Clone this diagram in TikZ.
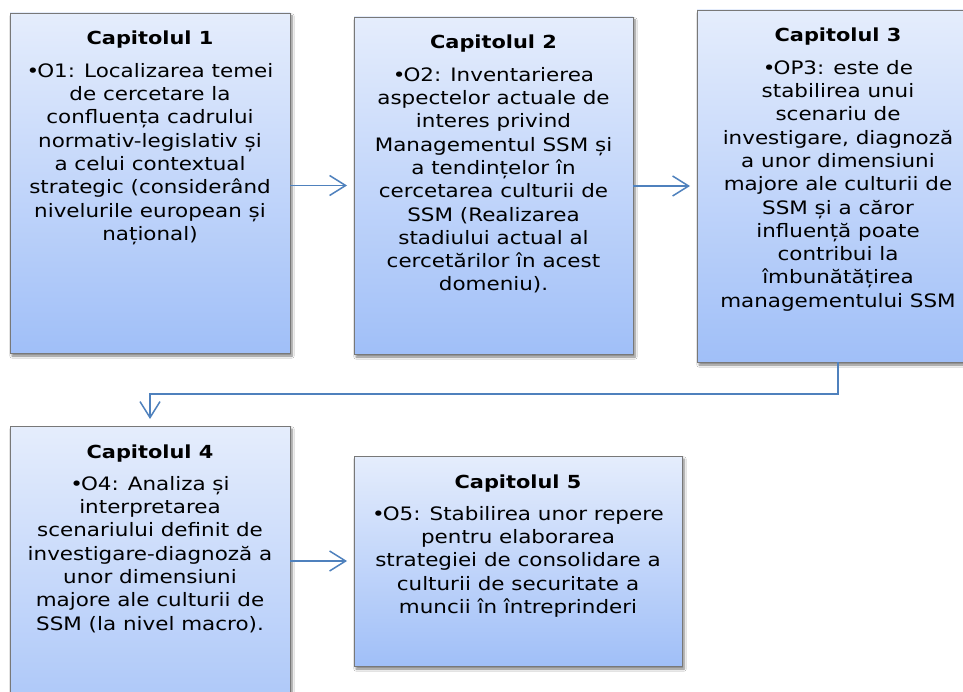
\documentclass[tikz,border=0pt]{standalone}
\usepackage{fontspec}
\setmainfont[FakeStretch=1.16]{DejaVu Sans}
\usetikzlibrary{arrows.meta,shadows.blur}

\definecolor{boxtop}{RGB}{229,237,252}
\definecolor{boxbot}{RGB}{160,191,248}
\definecolor{boxline}{RGB}{120,120,120}
\definecolor{linkblue}{RGB}{79,129,189}

% bullet set close to the following word
\newcommand{\objbullet}{•\kern-2pt}

\begin{document}
\begin{tikzpicture}[x=1pt,y=-1pt,
  chapter/.style={draw=boxline, line width=0.8pt, inner sep=0pt, outer sep=0pt,
    anchor=north west, top color=boxtop, bottom color=boxbot,
    blur shadow={shadow xshift=2pt, shadow yshift=-3pt, shadow blur steps=6, shadow opacity=50}},
  chaptitle/.style={anchor=base, inner sep=0pt, font=\fontsize{18}{22}\selectfont\bfseries},
  chapbody/.style={anchor=north, inner sep=0pt, align=center, font=\fontsize{18.5}{23.3}\selectfont},
  link/.style={draw=linkblue, line width=1.3pt,
    -{Straight Barb[length=16pt,width=20pt,line width=1.5pt]}, shorten >=7pt}]

\useasboundingbox (0,0) rectangle (963,692);
\clip (0,0) rectangle (963,692);
\fill[white] (0,0) rectangle (963,692);

% chapter boxes
\node[chapter, minimum width=280pt, minimum height=340pt] (c1) at (10,13) {};
\node[chapter, minimum width=279pt, minimum height=337pt] (c2) at (354,17) {};
\node[chapter, minimum width=282pt, minimum height=352pt] (c3) at (697,10) {};
\node[chapter, minimum width=280pt, minimum height=344pt] (c4) at (10,426) {};
\node[chapter, minimum width=328pt, minimum height=210pt] (c5) at (354,456) {};

% titles
\node[chaptitle] (t1) at ([yshift=-32pt]c1.north) {Capitolul 1};
\node[chaptitle] (t2) at ([yshift=-32pt]c2.north) {Capitolul 2};
\node[chaptitle] (t3) at ([yshift=-32pt]c3.north) {Capitolul 3};
\node[chaptitle] (t4) at ([yshift=-32pt]c4.north) {Capitolul 4};
\node[chaptitle] (t5) at ([yshift=-32pt]c5.north) {Capitolul 5};

% objectives
\node[chapbody] (b1) at ([yshift=-50pt]c1.north) {\objbullet O1: Localizarea temei\\
de cercetare la\\
confluența cadrului\\
normativ-legislativ și\\
a celui contextual\\
strategic (considerând\\
nivelurile european și\\
național)};

\node[chapbody] (b2) at ([yshift=-50pt]c2.north) {\objbullet O2: Inventarierea\\
aspectelor actuale de\\
interes privind\\
Managementul SSM și\\
a tendințelor în\\
cercetarea culturii de\\
SSM (Realizarea\\
stadiului actual al\\
cercetărilor în acest\\
domeniu).};

\node[chapbody] (b3) at ([yshift=-50pt]c3.north) {\objbullet OP3: este de\\
stabilirea unui\\
scenariu de\\
investigare, diagnoză\\
a unor dimensiuni\\
majore ale culturii de\\
SSM și a căror\\
influență poate\\
contribui la\\
îmbunătățirea\\
managementului SSM};

\node[chapbody] (b4) at ([yshift=-50pt]c4.north) {\objbullet O4: Analiza și\\
interpretarea\\
scenariului definit de\\
investigare-diagnoză a\\
unor dimensiuni\\
majore ale culturii de\\
SSM (la nivel macro).};

\node[chapbody] (b5) at ([yshift=-50pt]c5.north) {\objbullet O5: Stabilirea unor repere\\
pentru elaborarea\\
strategiei de consolidare a\\
culturii de securitate a\\
muncii în întreprinderi};

% connectors
\draw[link] (c1.east |- c2.west) -- (c2.west);
\draw[link] (c2.east |- c3.west) -- (c3.west);
\draw[link] (c3.south) -- ++(0,32) -| (c4.north);
\draw[link] (c4.east |- c5.west) -- (c5.west);
\end{tikzpicture}
\end{document}
